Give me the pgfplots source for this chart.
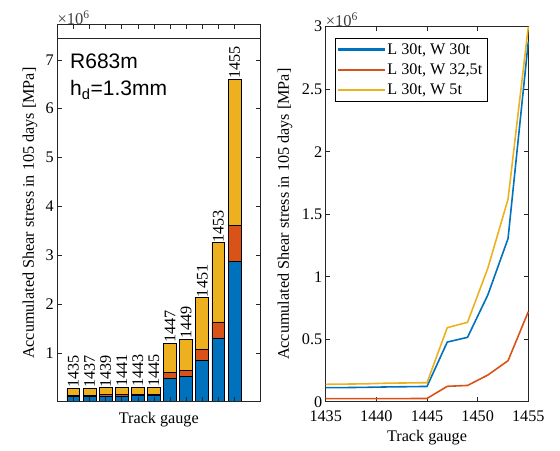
\documentclass[border=0pt]{standalone}
\usepackage{graphicx}
\usepackage{pgfplots}
\usepackage{pgfplotstable}
\pgfplotsset{compat=1.18}
\usepackage{fontspec}
\setmainfont{Liberation Serif}
\newfontfamily\arialfont{Liberation Sans}
\definecolor{mblue}{rgb}{0,0.447,0.741}
\definecolor{mred}{rgb}{0.850,0.325,0.098}
\definecolor{myellow}{rgb}{0.929,0.694,0.125}
\newcommand{\tf}{\fontsize{16.2bp}{19bp}\selectfont}

\pgfplotstableread{
x  g     blue  red   yellow lab
1  1435  0.112 0.024 0.139  1435
2  1437  0.113 0.024 0.141  1437
3  1439  0.115 0.025 0.143  1439
4  1441  0.118 0.025 0.148  1441
5  1443  0.120 0.025 0.150  1443
6  1445  0.122 0.026 0.152  1445
7  1447  0.477 0.123 0.592  1447
8  1449  0.515 0.130 0.635  1449
9  1451  0.853 0.213 1.067  1451
10 1453  1.305 0.328 1.620  1453
11 1455  2.880 0.720 3.000  1455
}\gaugedata
\pgfplotstablecreatecol[expr={\thisrow{blue}+\thisrow{red}+\thisrow{yellow}}]{total}{\gaugedata}

\pgfplotsset{
  leftgeom/.style={
    at={(57.3bp,49.3bp)}, anchor=south west,
    scale only axis, width=203bp, height=377bp,
    xmin=0, xmax=12.6, ymin=0, ymax=7.72,
  }
}

\begin{document}
\begin{tikzpicture}
\path[use as bounding box] (0bp,0bp) rectangle (560bp,451bp);

% ---------------- left: stacked bars ----------------
\begin{axis}[
  leftgeom,
  ybar stacked, bar width=0.8,
  xtick={1,...,11}, xticklabels={},
  ytick={1,...,7},
  extra y ticks={7.44}, extra y tick labels={},
  extra y tick style={grid=major, major grid style={black!85, line width=0.8bp}, major tick length=0pt},
  tick label style={font=\tf},
  /pgf/number format/assume math mode=true,
  axis line style={line width=0.8bp, black!85},
  every tick/.style={black!85, line width=0.7bp},
  major tick length=4.5bp,
  axis on top,
  xlabel={Track gauge},
  xlabel style={font=\tf, at={(axis description cs:0.5,-0.0485)}, anchor=center},
  ylabel={Accumulated Shear stress in 105 days [MPa]},
  ylabel style={font=\tf, at={(axis description cs:-0.1345,0.5)}, anchor=center},
  clip=false,
]
\addplot[fill=mblue, draw=black, line width=0.8bp] table[x=x, y=blue] {\gaugedata};
\addplot[fill=mred, draw=black, line width=0.8bp] table[x=x, y=red] {\gaugedata};
\addplot[fill=myellow, draw=black, line width=0.8bp] table[x=x, y=yellow] {\gaugedata};
\node[anchor=south west, inner sep=0pt, font=\fontsize{16.5bp}{18bp}\selectfont, text=black!75] at (rel axis cs:0,1) {×10\textsuperscript{6}};
\node[anchor=base west, inner sep=0pt, font=\arialfont\fontsize{21bp}{24bp}\selectfont] at (axis description cs:0.0626,0.884) {R683m};
\node[anchor=base west, inner sep=0pt, font=\arialfont\fontsize{21bp}{24bp}\selectfont] at (axis description cs:0.0626,0.811) {h\textsubscript{d}=1.3mm};
\end{axis}

% overlay axis for the gauge labels above the bars
\begin{axis}[
  leftgeom, hide axis, clip=false,
]
\addplot[draw=none, mark=none,
  point meta=explicit symbolic,
  nodes near coords={\rotatebox{90}{\pgfplotspointmeta}},
  every node near coord/.append style={font=\tf, inner sep=0.3bp, text=black}
] table[x=x, y=total, meta=lab] {\gaugedata};
\end{axis}

% ---------------- right: lines ----------------
\begin{axis}[
  at={(325.7bp,49.3bp)}, anchor=south west,
  scale only axis, width=202.6bp, height=375bp,
  xmin=1435, xmax=1455, ymin=0, ymax=3,
  xtick={1435,1440,1445,1450,1455},
  ytick={0,0.5,1,1.5,2,2.5,3},
  tick label style={font=\tf},
  /pgf/number format/assume math mode=true,
  xticklabel style={/pgf/number format/set thousands separator={}, yshift=-6bp},
  axis line style={line width=0.8bp, black!85},
  every tick/.style={black!85, line width=0.7bp},
  major tick length=4.5bp,
  xlabel={Track gauge},
  xlabel style={font=\tf, at={(axis description cs:0.5,-0.0968)}, anchor=center},
  ylabel={Accumulated Shear stress in 105 days [MPa]},
  ylabel style={font=\tf, at={(axis description cs:-0.201,0.5)}, anchor=center},
  legend style={at={(axis description cs:0.046,0.97)}, anchor=north west,
    font=\tf, draw=black, line width=0.8bp, inner sep=3bp, row sep=4bp,
    legend cell align=left},
  legend image code/.code={\fill[#1, draw=none] (0bp,-1.2bp) rectangle (47bp,1.2bp);},
  clip=false,
]
\addplot[color=mblue, line width=1.6bp] table[x=g, y=blue] {\gaugedata};
\addlegendentry{L 30t, W 30t}
\addplot[color=mred, line width=1.6bp] table[x=g, y=red] {\gaugedata};
\addlegendentry{L 30t, W 32,5t}
\addplot[color=myellow, line width=1.6bp] table[x=g, y=yellow] {\gaugedata};
\addlegendentry{L 30t, W 5t}
\node[anchor=south west, inner sep=0pt, font=\fontsize{16.5bp}{18bp}\selectfont, text=black!75] at (rel axis cs:0,1) {×10\textsuperscript{6}};
\end{axis}
\end{tikzpicture}
\end{document}
